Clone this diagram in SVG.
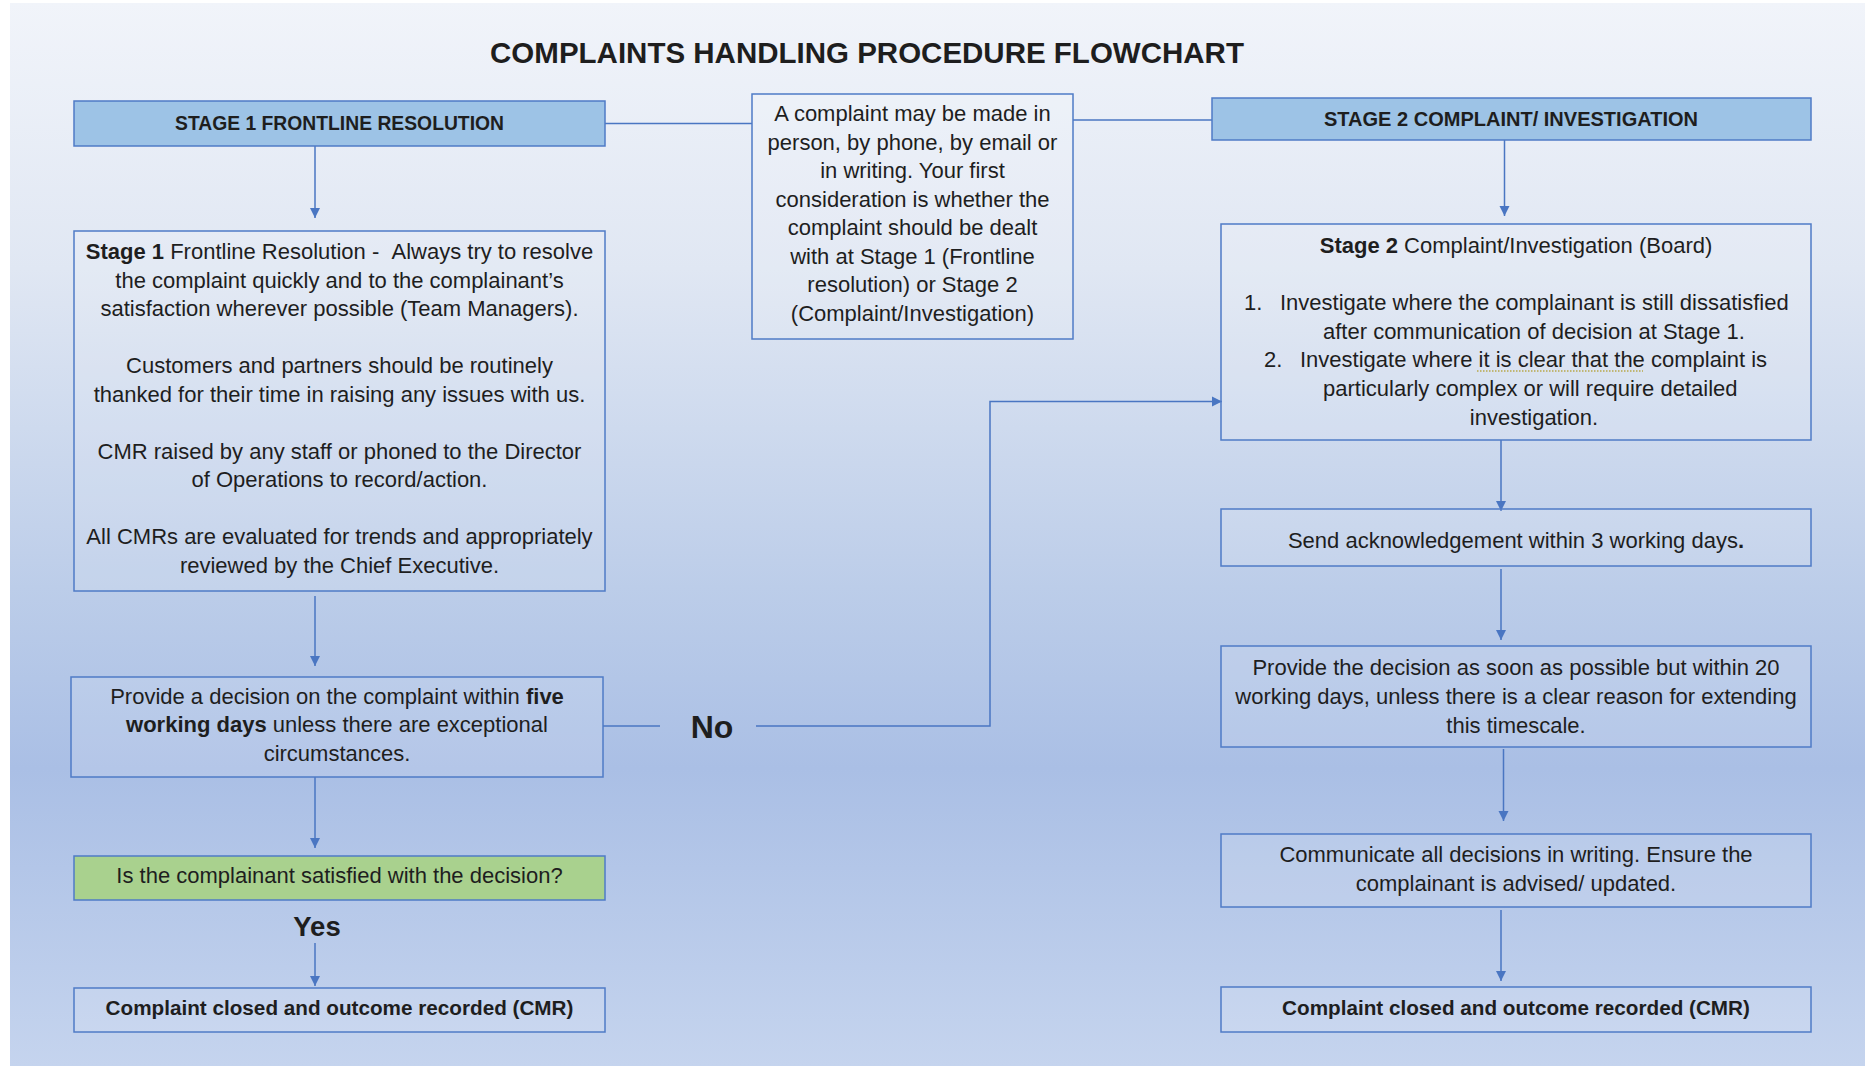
<svg xmlns="http://www.w3.org/2000/svg" width="1865" height="1066" viewBox="0 0 1865 1066">
<defs>
<linearGradient id="bg" x1="0" y1="0" x2="0" y2="1">
<stop offset="0" stop-color="#f1f4fa"/>
<stop offset="0.25" stop-color="#e0e7f3"/>
<stop offset="0.55" stop-color="#bccde9"/>
<stop offset="0.72" stop-color="#aabfe5"/>
<stop offset="1" stop-color="#c5d4ee"/>
</linearGradient>
<marker id="arr" markerUnits="userSpaceOnUse" markerWidth="12" markerHeight="12" viewBox="0 0 12 12" refX="11" refY="6" orient="auto">
<path d="M1,1 L11,6 L1,11 Z" fill="#4a76c2"/>
</marker>
<style>
.box{fill:#ffffff;fill-opacity:0.12;stroke:#4f7bc6;stroke-width:1.5}
.hdr{fill:#9dc3e6;stroke:#4f7bc6;stroke-width:1.5}
.green{fill:#a9d18e;stroke:#4f7bc6;stroke-width:1.5}
.t{font-family:"Liberation Sans",Arial,sans-serif;font-size:22px;fill:#1e1e1e;text-anchor:middle}
.b{font-weight:bold}
.h{font-size:19.7px}
.c{font-size:20.7px}
.l{text-anchor:start}
.con{fill:none;stroke:#4a76c2;stroke-width:1.5}
</style>
</defs>
<rect x="0" y="0" width="1865" height="1066" fill="#ffffff"/>
<rect x="10" y="3" width="1855" height="1063" fill="url(#bg)"/>

<text class="t b" x="867" y="63" style="font-size:29.5px">COMPLAINTS HANDLING PROCEDURE FLOWCHART</text>

<g id="connectors">
<path class="con" d="M605,123.5 H752"/>
<path class="con" d="M1073,120 H1212"/>
<path class="con" d="M315,146 V218" marker-end="url(#arr)"/>
<path class="con" d="M315,596 V666" marker-end="url(#arr)"/>
<path class="con" d="M315,777 V848" marker-end="url(#arr)"/>
<path class="con" d="M315,943 V986" marker-end="url(#arr)"/>
<path class="con" d="M603,726 H660"/>
<path class="con" d="M756,726 H990 V401.5 H1222" marker-end="url(#arr)"/>
<path class="con" d="M1504.5,140 V216" marker-end="url(#arr)"/>
<path class="con" d="M1501,440 V511" marker-end="url(#arr)"/>
<path class="con" d="M1501,569 V640" marker-end="url(#arr)"/>
<path class="con" d="M1503.5,749 V821" marker-end="url(#arr)"/>
<path class="con" d="M1501,910 V981" marker-end="url(#arr)"/>
<text class="t b" x="712" y="738" style="font-size:32px">No</text>
<text class="t b" x="317" y="936" style="font-size:27.5px">Yes</text>
</g>

<g id="stage1-header">
<rect class="hdr" x="74" y="101" width="531" height="45"/>
<text class="t b h" x="339.5" y="130" textLength="329" lengthAdjust="spacingAndGlyphs">STAGE 1 FRONTLINE RESOLUTION</text>
</g>

<g id="intro">
<rect class="box" x="752" y="94" width="321" height="245"/>
<text class="t" x="912.5" y="121">A complaint may be made in</text>
<text class="t" x="912.5" y="150">person, by phone, by email or</text>
<text class="t" x="912.5" y="178">in writing. Your first</text>
<text class="t" x="912.5" y="207">consideration is whether the</text>
<text class="t" x="912.5" y="235">complaint should be dealt</text>
<text class="t" x="912.5" y="264">with at Stage 1 (Frontline</text>
<text class="t" x="912.5" y="292">resolution) or Stage 2</text>
<text class="t" x="912.5" y="321">(Complaint/Investigation)</text>
</g>

<g id="stage2-header">
<rect class="hdr" x="1212" y="98" width="599" height="42"/>
<text class="t b h" x="1511" y="126" textLength="374" lengthAdjust="spacingAndGlyphs">STAGE 2 COMPLAINT/ INVESTIGATION</text>
</g>

<g id="stage1-box">
<rect class="box" x="74" y="231" width="531" height="360"/>
<text class="t" x="339.5" y="259"><tspan class="b">Stage 1</tspan> Frontline Resolution - &#160;Always try to resolve</text>
<text class="t" x="339.5" y="287.5">the complaint quickly and to the complainant’s</text>
<text class="t" x="339.5" y="316">satisfaction wherever possible (Team Managers).</text>
<text class="t" x="339.5" y="373">Customers and partners should be routinely</text>
<text class="t" x="339.5" y="401.5">thanked for their time in raising any issues with us.</text>
<text class="t" x="339.5" y="458.5">CMR raised by any staff or phoned to the Director</text>
<text class="t" x="339.5" y="487">of Operations to record/action.</text>
<text class="t" x="339.5" y="544">All CMRs are evaluated for trends and appropriately</text>
<text class="t" x="339.5" y="572.5">reviewed by the Chief Executive.</text>
</g>

<g id="decision-stage1">
<rect class="box" x="71" y="677" width="532" height="100"/>
<text class="t" x="337" y="704">Provide a decision on the complaint within <tspan class="b">five</tspan></text>
<text class="t" x="337" y="732"><tspan class="b">working days</tspan> unless there are exceptional</text>
<text class="t" x="337" y="761">circumstances.</text>
</g>

<g id="satisfied">
<rect class="green" x="74" y="856" width="531" height="44"/>
<text class="t" x="339.5" y="883">Is the complainant satisfied with the decision?</text>
</g>

<g id="closed-left">
<rect class="box" x="74" y="988" width="531" height="44"/>
<text class="t b c" x="339.5" y="1015">Complaint closed and outcome recorded (CMR)</text>
</g>

<g id="stage2-box">
<rect class="box" x="1221" y="224" width="590" height="216"/>
<text class="t" x="1516" y="253"><tspan class="b">Stage 2</tspan> Complaint/Investigation (Board)</text>
<text class="t l" x="1244" y="310">1.</text>
<text class="t l" x="1280" y="310">Investigate where the complainant is still dissatisfied</text>
<text class="t l" x="1323" y="339">after communication of decision at Stage 1.</text>
<text class="t l" x="1264" y="367">2.</text>
<text class="t l" x="1300" y="367">Investigate where it is clear that the complaint is</text>
<line x1="1477" y1="371" x2="1643" y2="371" stroke="#b8a84a" stroke-width="1.5" stroke-dasharray="1.5 1.5"/>
<text class="t l" x="1323" y="396">particularly complex or will require detailed</text>
<text class="t" x="1534" y="424.5">investigation.</text>
</g>

<g id="acknowledge">
<rect class="box" x="1221" y="509" width="590" height="57"/>
<text class="t" x="1516" y="548">Send acknowledgement within 3 working days<tspan class="b">.</tspan></text>
</g>

<g id="decision-stage2">
<rect class="box" x="1221" y="646" width="590" height="101"/>
<text class="t" x="1516" y="675">Provide the decision as soon as possible but within 20</text>
<text class="t" x="1516" y="704">working days, unless there is a clear reason for extending</text>
<text class="t" x="1516" y="732.5">this timescale.</text>
</g>

<g id="communicate">
<rect class="box" x="1221" y="834" width="590" height="73"/>
<text class="t" x="1516" y="862">Communicate all decisions in writing. Ensure the</text>
<text class="t" x="1516" y="891">complainant is advised/ updated.</text>
</g>

<g id="closed-right">
<rect class="box" x="1221" y="987" width="590" height="45"/>
<text class="t b c" x="1516" y="1015">Complaint closed and outcome recorded (CMR)</text>
</g>
</svg>
